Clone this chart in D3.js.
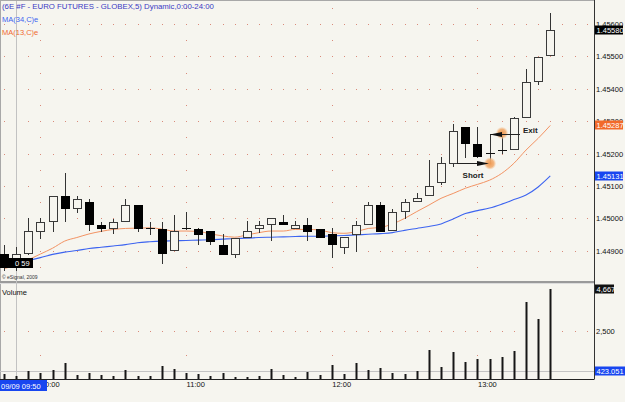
<!DOCTYPE html>
<html>
<head>
<meta charset="utf-8">
<script src="https://cdn.jsdelivr.net/npm/d3@7"></script>
<style>
  body { margin: 0; background: #f6f5ef; }
  svg { display: block; font-family: "Liberation Sans", Arial, sans-serif; }
</style>
</head>
<body>
<svg id="chart"></svg>
<script>
// 5-minute bars, 09/09/2009
const times = ['09:45','09:50','09:55','10:00','10:05','10:10','10:15','10:20','10:25','10:30',
  '10:35','10:40','10:45','10:50','10:55','11:00','11:05','11:10','11:15','11:20',
  '11:25','11:30','11:35','11:40','11:45','11:50','11:55','12:00','12:05','12:10',
  '12:15','12:20','12:25','12:30','12:35','12:40','12:45','12:50','12:55','13:00',
  '13:05','13:10','13:15','13:20','13:25','13:30'];
const opens = [1.44890,1.44853,1.44892,1.44962,1.44992,1.45069,1.45031,1.45051,1.44979,1.44970,
  1.44992,1.45040,1.44971,1.44968,1.44902,1.44971,1.44968,1.44961,1.44918,1.44891,
  1.44942,1.44969,1.44983,1.44990,1.44969,1.44980,1.44968,1.44951,1.44913,1.44951,
  1.44982,1.45040,1.44964,1.45023,1.45054,1.45072,1.45113,1.45172,1.45281,1.45229,
  1.45201,1.45211,1.45213,1.45312,1.45424,1.45503];
const highs = [1.44918,1.44912,1.45000,1.45000,1.45070,1.45141,1.45069,1.45061,1.44990,1.44999,
  1.45061,1.45040,1.44990,1.44990,1.45010,1.45021,1.44970,1.44961,1.44951,1.44939,
  1.44992,1.44992,1.45000,1.45010,1.44992,1.45001,1.44968,1.44969,1.44942,1.44991,
  1.45050,1.45050,1.45028,1.45060,1.45079,1.45180,1.45190,1.45290,1.45281,1.45281,
  1.45257,1.45257,1.45312,1.45460,1.45499,1.45633];
const lows = [1.44841,1.44841,1.44890,1.44940,1.44961,1.44992,1.45021,1.44964,1.44962,1.44954,
  1.44992,1.44962,1.44952,1.44863,1.44902,1.44967,1.44921,1.44920,1.44891,1.44880,
  1.44942,1.44959,1.44932,1.44982,1.44969,1.44932,1.44942,1.44881,1.44892,1.44900,
  1.44982,1.44962,1.44964,1.45000,1.45054,1.45072,1.45105,1.45163,1.45190,1.45190,
  1.45170,1.45201,1.45213,1.45312,1.45414,1.45503];
const closes = [1.44850,1.44889,1.44961,1.44990,1.45068,1.45031,1.45060,1.44982,1.44970,1.44990,
  1.45040,1.44971,1.44971,1.44892,1.44962,1.44971,1.44952,1.44931,1.44891,1.44939,
  1.44961,1.44979,1.45000,1.44982,1.44979,1.44962,1.44942,1.44921,1.44942,1.44979,
  1.45040,1.44962,1.45019,1.45050,1.45062,1.45100,1.45170,1.45271,1.45232,1.45193,
  1.45201,1.45211,1.45309,1.45421,1.45499,1.45580];
const ma34 = [1.44853,1.44862,1.44870,1.44879,1.44889,1.44896,1.44901,1.44907,1.44911,1.44915,
  1.44919,1.44925,1.44928,1.44930,1.44931,1.44932,1.44933,1.44934,1.44936,1.44938,
  1.44939,1.44941,1.44942,1.44943,1.44944,1.44945,1.44945,1.44946,1.44947,1.44949,
  1.44951,1.44953,1.44956,1.44963,1.44969,1.44975,1.44983,1.44998,1.45015,1.45024,
  1.45032,1.45044,1.45058,1.45072,1.45097,1.45131];
const ma13 = [1.44845,1.44856,1.44872,1.44890,1.44908,1.44930,1.44941,1.44952,1.44960,1.44966,
  1.44969,1.44970,1.44971,1.44967,1.44961,1.44961,1.44960,1.44952,1.44946,1.44942,
  1.44949,1.44956,1.44961,1.44961,1.44966,1.44966,1.44964,1.44956,1.44954,1.44959,
  1.44969,1.44972,1.44983,1.45000,1.45021,1.45041,1.45062,1.45077,1.45093,1.45105,
  1.45118,1.45139,1.45170,1.45211,1.45247,1.45287];
const volumes = [278,156,417,295,469,816,208,312,208,156,
  469,156,156,677,503,312,243,156,312,104,
  104,156,538,208,104,365,191,712,243,816,
  469,573,312,278,417,1510,625,1389,885,1024,
  1059,1163,1458,4010,3142,4667];
const priceTicks = [1.449,1.450,1.451,1.452,1.453,1.454,1.455,1.456];
const halfTicks = [1.4485,1.4495,1.4505,1.4515,1.4525,1.4535,1.4545,1.4555,1.4565];
const volTicks = [2500];
const volHalfTicks = [1250, 2500];
const hourTicks = ['10:00','11:00','12:00','13:00'];
const volRef = 423.051;
const cursorTime = '09:50';
const shortTrade = { from: '12:50', at: '13:05', price: 1.45172 };
const exitTrade = { at: '13:05', mark: '13:10', to: '13:15', price: 1.45260 };

const W = 625, H = 402;
const axisX = 594.5;
const bg = '#f6f5ef';

const svg = d3.select('#chart').attr('width', W).attr('height', H);
svg.append('rect').attr('width', W).attr('height', H).attr('fill', bg);

const x = d3.scalePoint().domain(times).range([4, 550.3]);
const y = d3.scaleLinear().domain([1.449, 1.456]).range([250.8, 24]);
const yv = d3.scaleLinear().domain([0, 2500]).range([379, 331]);
const px = t => Math.round(x(t));

// dotted grid, one dot per bar slot
const dotXs = d3.range(49).map(i => Math.round(x(times[0]) + i * x.step()));
const gridColor = '#d98a7a';
const grid = svg.append('g');
priceTicks.forEach(p => {
  grid.selectAll(null).data(dotXs).enter().append('rect')
    .attr('x', d => d).attr('y', Math.round(y(p))).attr('width', 1).attr('height', 1).attr('fill', gridColor);
});
volTicks.forEach(v => {
  grid.selectAll(null).data(dotXs).enter().append('rect')
    .attr('x', d => d).attr('y', Math.round(yv(v))).attr('width', 1).attr('height', 1).attr('fill', gridColor);
});
hourTicks.forEach(t => {
  grid.selectAll(null).data(halfTicks).enter().append('rect')
    .attr('x', px(t)).attr('y', d => Math.round(y(d))).attr('width', 1).attr('height', 1).attr('fill', gridColor);
  grid.selectAll(null).data(volHalfTicks).enter().append('rect')
    .attr('x', px(t)).attr('y', d => Math.round(yv(d))).attr('width', 1).attr('height', 1).attr('fill', gridColor);
});

// frame
svg.append('line').attr('x1', 0).attr('x2', axisX).attr('y1', 0.5).attr('y2', 0.5).attr('stroke', '#a8a8a8');
svg.append('line').attr('x1', 0.5).attr('x2', 0.5).attr('y1', 0).attr('y2', 380).attr('stroke', '#a8a8a8');
svg.append('rect').attr('x', 0).attr('y', 281).attr('width', axisX).attr('height', 2).attr('fill', '#9a9a9a');
svg.append('line').attr('x1', 0).attr('x2', axisX).attr('y1', 283.5).attr('y2', 283.5).attr('stroke', '#dcdcdc');
svg.append('line').attr('x1', 0).attr('x2', axisX).attr('y1', Math.round(yv(volRef)) + 0.5).attr('y2', Math.round(yv(volRef)) + 0.5).attr('stroke', '#c4c4c4');

// cursor line
svg.append('line').attr('x1', px(cursorTime) + 0.5).attr('x2', px(cursorTime) + 0.5)
  .attr('y1', 1).attr('y2', 379).attr('stroke', '#c2c2c2');

// moving averages
const line = d3.line().x((d, i) => x(times[i])).y(d => y(d)).curve(d3.curveMonotoneX);
svg.append('path').datum(ma34).attr('d', line).attr('fill', 'none').attr('stroke', '#3d64f0').attr('stroke-width', 1.1);
svg.append('path').datum(ma13).attr('d', line).attr('fill', 'none').attr('stroke', '#f39363').attr('stroke-width', 1);

// candles
const bars = times.map((t, i) => ({ t, o: opens[i], h: highs[i], l: lows[i], c: closes[i], v: volumes[i] }));
const candles = svg.append('g');
candles.selectAll('line.wick').data(bars).enter().append('line').attr('class', 'wick')
  .attr('x1', d => px(d.t) + 0.5).attr('x2', d => px(d.t) + 0.5)
  .attr('y1', d => Math.round(y(d.h))).attr('y2', d => Math.round(y(d.l)) + 1)
  .attr('stroke', '#333');
candles.selectAll('rect.up').data(bars.filter(d => d.c > d.o)).enter().append('rect').attr('class', 'up')
  .attr('x', d => px(d.t) - 3.5).attr('width', 8)
  .attr('y', d => Math.round(y(d.c)) + 0.5).attr('height', d => Math.max(1, Math.round(y(d.o)) - Math.round(y(d.c))))
  .attr('fill', bg).attr('stroke', '#3a3a3a');
candles.selectAll('rect.down').data(bars.filter(d => d.c < d.o)).enter().append('rect').attr('class', 'down')
  .attr('x', d => px(d.t) - 4).attr('width', 9)
  .attr('y', d => Math.round(y(d.o))).attr('height', d => Math.max(2, Math.round(y(d.c)) - Math.round(y(d.o)) + 1))
  .attr('fill', '#000');
candles.selectAll('line.doji').data(bars.filter(d => d.c === d.o)).enter().append('line').attr('class', 'doji')
  .attr('x1', d => px(d.t) - 4).attr('x2', d => px(d.t) + 5)
  .attr('y1', d => Math.round(y(d.c)) + 0.5).attr('y2', d => Math.round(y(d.c)) + 0.5)
  .attr('stroke', '#111');

// volume bars
svg.append('g').selectAll('rect').data(bars).enter().append('rect')
  .attr('x', d => px(d.t) - 0.5).attr('width', 2)
  .attr('y', d => Math.round(yv(d.v))).attr('height', d => 379 - Math.round(yv(d.v)))
  .attr('fill', '#161616');

// trade annotations
const defs = svg.append('defs');
const grad = defs.append('radialGradient').attr('id', 'glow');
grad.append('stop').attr('offset', '0%').attr('stop-color', '#ee9a55').attr('stop-opacity', 1);
grad.append('stop').attr('offset', '65%').attr('stop-color', '#f2ad70').attr('stop-opacity', 0.9);
grad.append('stop').attr('offset', '100%').attr('stop-color', '#f6d2b0').attr('stop-opacity', 0.3);

const sy = Math.round(y(shortTrade.price)) + 0.5;
const sx = px(shortTrade.at);
svg.append('circle').attr('cx', sx).attr('cy', sy).attr('r', 6).attr('fill', 'url(#glow)');
svg.append('line').attr('x1', px(shortTrade.from) + 4).attr('x2', sx - 6).attr('y1', sy).attr('y2', sy).attr('stroke', '#222');
svg.append('path').attr('d', `M${sx - 1},${sy} L${sx - 13},${sy - 2.5} L${sx - 13},${sy + 2.5} Z`).attr('fill', '#111');
svg.append('text').attr('x', sx - 17).attr('y', sy + 14).attr('text-anchor', 'middle')
  .style('font-size', '8px').style('font-weight', 'bold').attr('fill', '#222').text('Short');

const ey = Math.round(y(exitTrade.price)) + 0.5;
const ex = px(exitTrade.at);
svg.append('circle').attr('cx', px(exitTrade.mark)).attr('cy', ey - 1.5).attr('r', 6).attr('fill', 'url(#glow)');
svg.append('line').attr('x1', ex).attr('x2', px(exitTrade.to) + 6).attr('y1', ey).attr('y2', ey).attr('stroke', '#222');
svg.append('path').attr('d', `M${ex},${ey} L${ex + 12},${ey - 2.5} L${ex + 12},${ey + 2.5} Z`).attr('fill', '#111');
svg.append('text').attr('x', px(exitTrade.to) + 9).attr('y', ey - 2).attr('text-anchor', 'start')
  .style('font-size', '8px').style('font-weight', 'bold').attr('fill', '#222').text('Exit');

// axes
svg.append('line').attr('x1', axisX).attr('x2', axisX).attr('y1', 0).attr('y2', 379).attr('stroke', '#333');
svg.append('line').attr('x1', 0).attr('x2', axisX).attr('y1', 379.5).attr('y2', 379.5).attr('stroke', '#222');

const yAxisG = svg.append('g').attr('transform', `translate(${axisX},0)`)
  .call(d3.axisRight(y).tickValues(priceTicks).tickSize(0).tickPadding(1.5).tickFormat(d3.format('.5f')));
const vAxisG = svg.append('g').attr('transform', `translate(${axisX},0)`)
  .call(d3.axisRight(yv).tickValues(volTicks).tickSize(0).tickPadding(1.5).tickFormat(d3.format(',')));
const xAxisG = svg.append('g').attr('transform', 'translate(0,380)')
  .call(d3.axisBottom(x).tickValues(hourTicks).tickSize(0).tickPadding(2));
[yAxisG, vAxisG, xAxisG].forEach(g => {
  g.select('.domain').remove();
  g.selectAll('text').style('font-size', '7.5px').attr('fill', '#111').style('font-family', '"Liberation Sans", Arial, sans-serif');
});
xAxisG.selectAll('text').attr('text-anchor', 'start').attr('dx', 0);

// value flags on the right axis
function flag(yPos, w, color, label) {
  const g = svg.append('g');
  g.append('rect').attr('x', axisX + 0.5).attr('y', Math.round(yPos) - 4.5).attr('width', w).attr('height', 9).attr('fill', color);
  g.append('text').attr('x', axisX + 2).attr('y', Math.round(yPos) + 2.8)
    .style('font-size', '7.5px').attr('fill', '#fff').text(label);
}
flag(y(closes[closes.length - 1]), 28, '#000', d3.format('.5f')(closes[closes.length - 1]));
flag(y(ma13[ma13.length - 1]), 28, '#f26a2a', d3.format('.5f')(ma13[ma13.length - 1]));
flag(y(ma34[ma34.length - 1]), 28, '#1846f0', d3.format('.5f')(ma34[ma34.length - 1]));
flag(yv(volumes[volumes.length - 1]), 19, '#111', d3.format(',')(volumes[volumes.length - 1]));
flag(yv(volRef), 30, '#1846f0', d3.format('.3f')(volRef));

// date flag on the time axis
svg.append('rect').attr('x', 0).attr('y', 380).attr('width', 47).attr('height', 11).attr('fill', '#1846f0');
svg.append('text').attr('x', 1).attr('y', 388.5).style('font-size', '7.5px').attr('fill', '#fff').text('09/09 ' + cursorTime);

// small price flag at lower left
svg.append('rect').attr('x', 0).attr('y', 258).attr('width', 33).attr('height', 10).attr('fill', '#000');
svg.append('text').attr('x', 15).attr('y', 266).style('font-size', '7.5px').attr('fill', '#fff').text('0 59');

// titles
svg.append('text').attr('x', 2).attr('y', 9).style('font-size', '7.8px').attr('fill', '#3a3ac4')
  .text('(6E #F - EURO FUTURES - GLOBEX,5) Dynamic,0:00-24:00');
svg.append('text').attr('x', 2).attr('y', 22).style('font-size', '7.5px').attr('fill', '#3d64f0').text('MA(34,C)e');
svg.append('text').attr('x', 2).attr('y', 34.5).style('font-size', '7.5px').attr('fill', '#f06a30').text('MA(13,C)e');
svg.append('text').attr('x', 2).attr('y', 279).style('font-size', '5px').attr('fill', '#333').text('\u00a9 eSignal, 2009');
svg.append('text').attr('x', 2).attr('y', 294.5).style('font-size', '7.5px').attr('fill', '#111').text('Volume');
</script>
</body>
</html>
